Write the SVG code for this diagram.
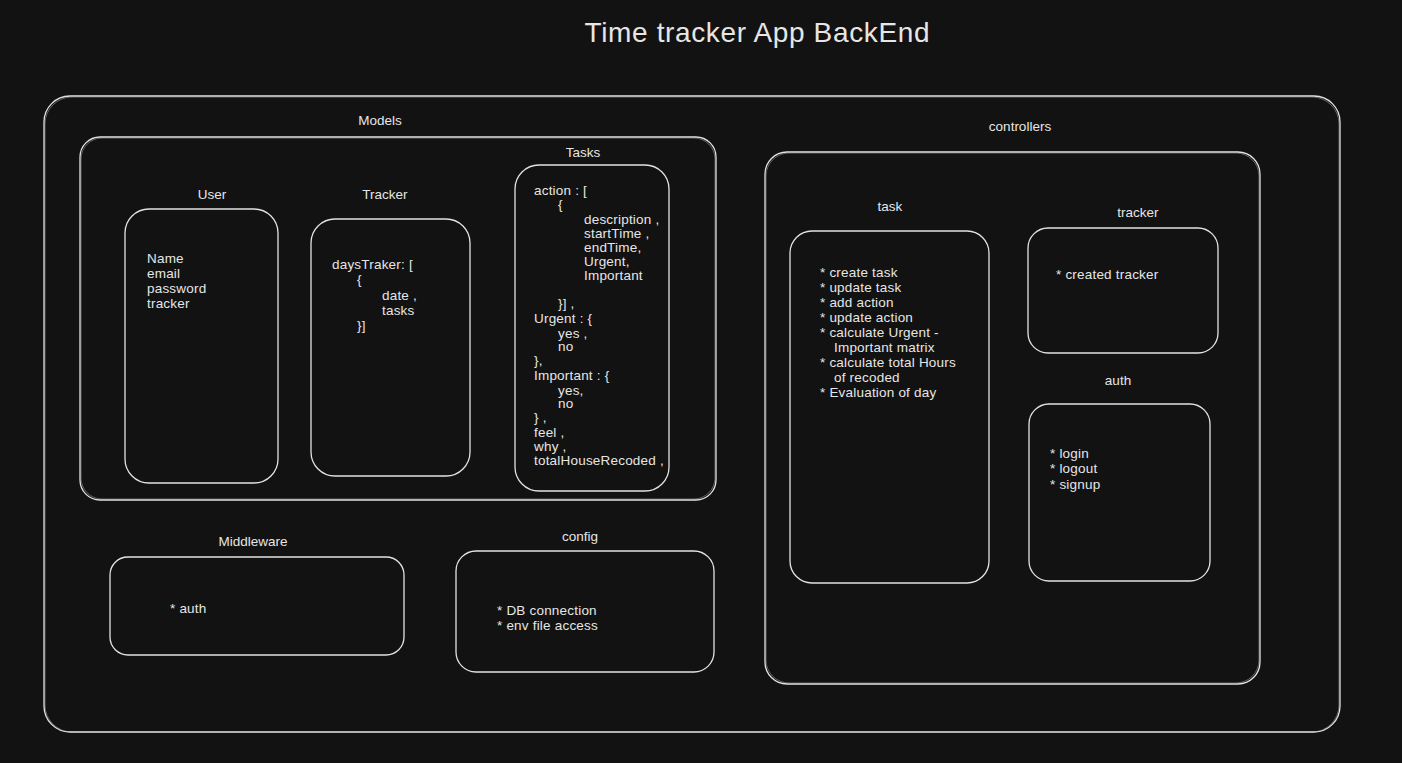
<svg xmlns="http://www.w3.org/2000/svg" width="1402" height="763" viewBox="0 0 1402 763">
  <style>
    .box { fill: none; stroke: #e3e3e3; stroke-width: 1.3; }
    .ghost { fill: none; stroke: #bdbdbd; stroke-width: 0.8; opacity: 0.6; }
    text { font-family: "Liberation Sans", Arial, sans-serif; fill: #e6e6e6; }
    .label { font-size: 13.5px; text-anchor: middle; }
    .body { font-size: 13.5px; letter-spacing: 0.2px; }
    .title { font-size: 28px; text-anchor: middle; }
  </style>
  <rect width="1402" height="763" fill="#121212"/>

  <text class="title" x="757" y="42" textLength="345" lengthAdjust="spacing">Time tracker App BackEnd</text>

  <!-- outer container -->
  <g id="backend">
    <rect class="box" x="44" y="96" width="1296" height="636" rx="26"/>
    <rect class="ghost" x="45" y="97" width="1294" height="635" rx="27"/>
  </g>

  <!-- Models section -->
  <g id="models">
    <text class="label" x="380" y="125">Models</text>
    <rect class="box" x="80" y="137" width="636" height="363" rx="20"/>
    <rect class="ghost" x="81" y="138" width="634" height="361" rx="21"/>
  </g>

  <g id="user">
    <text class="label" x="212" y="199">User</text>
    <rect class="box" x="125" y="209" width="153" height="274" rx="24"/>
    <text class="body" x="147" y="263">Name</text>
    <text class="body" x="147" y="278">email</text>
    <text class="body" x="147" y="293">password</text>
    <text class="body" x="147" y="308">tracker</text>
  </g>

  <g id="tracker-model">
    <text class="label" x="385" y="199">Tracker</text>
    <rect class="box" x="311" y="219" width="159" height="257" rx="24"/>
    <text class="body" x="332" y="269">daysTraker: [</text>
    <text class="body" x="357" y="284">{</text>
    <text class="body" x="382" y="300">date ,</text>
    <text class="body" x="382" y="315">tasks</text>
    <text class="body" x="357" y="330">}]</text>
  </g>

  <g id="tasks-model">
    <text class="label" x="583" y="157">Tasks</text>
    <rect class="box" x="515" y="165" width="154" height="326" rx="24"/>
    <text class="body" x="534" y="195">action : [</text>
    <text class="body" x="558" y="209">{</text>
    <text class="body" x="584" y="224">description ,</text>
    <text class="body" x="584" y="238">startTime ,</text>
    <text class="body" x="584" y="252">endTime,</text>
    <text class="body" x="584" y="266">Urgent,</text>
    <text class="body" x="584" y="280">Important</text>
    <text class="body" x="558" y="308">}] ,</text>
    <text class="body" x="534" y="323">Urgent : {</text>
    <text class="body" x="558" y="338">yes ,</text>
    <text class="body" x="558" y="351">no</text>
    <text class="body" x="534" y="365">},</text>
    <text class="body" x="534" y="380">Important : {</text>
    <text class="body" x="558" y="395">yes,</text>
    <text class="body" x="558" y="408">no</text>
    <text class="body" x="534" y="422">} ,</text>
    <text class="body" x="534" y="437">feel ,</text>
    <text class="body" x="534" y="451">why ,</text>
    <text class="body" x="534" y="465">totalHouseRecoded ,</text>
  </g>

  <!-- Middleware and config -->
  <g id="middleware">
    <text class="label" x="253" y="546">Middleware</text>
    <rect class="box" x="110" y="557" width="294" height="98" rx="18"/>
    <text class="body" x="170" y="613">* auth</text>
  </g>

  <g id="config">
    <text class="label" x="580" y="541">config</text>
    <rect class="box" x="456" y="551" width="258" height="121" rx="20"/>
    <text class="body" x="497" y="615">* DB connection</text>
    <text class="body" x="497" y="630">* env file access</text>
  </g>

  <!-- controllers section -->
  <g id="controllers">
    <text class="label" x="1020" y="131">controllers</text>
    <rect class="box" x="765" y="152" width="495" height="532" rx="22"/>
    <rect class="ghost" x="766" y="153" width="493" height="530" rx="23"/>
  </g>

  <g id="task-controller">
    <text class="label" x="890" y="211">task</text>
    <rect class="box" x="790" y="231" width="199" height="352" rx="22"/>
    <text class="body" x="820" y="277">* create task</text>
    <text class="body" x="820" y="292">* update task</text>
    <text class="body" x="820" y="307">* add action</text>
    <text class="body" x="820" y="322">* update action</text>
    <text class="body" x="820" y="337">* calculate Urgent -</text>
    <text class="body" x="834" y="352">Important matrix</text>
    <text class="body" x="820" y="367">* calculate total Hours</text>
    <text class="body" x="834" y="382">of recoded</text>
    <text class="body" x="820" y="397">* Evaluation of day</text>
  </g>

  <g id="tracker-controller">
    <text class="label" x="1138" y="217">tracker</text>
    <rect class="box" x="1028" y="228" width="190" height="125" rx="20"/>
    <text class="body" x="1056" y="279">* created tracker</text>
  </g>

  <g id="auth-controller">
    <text class="label" x="1118" y="385">auth</text>
    <rect class="box" x="1029" y="404" width="181" height="177" rx="20"/>
    <text class="body" x="1050" y="458">* login</text>
    <text class="body" x="1050" y="473">* logout</text>
    <text class="body" x="1050" y="489">* signup</text>
  </g>

  <!-- no connectors in this diagram -->
  <g id="connectors"/>
</svg>
